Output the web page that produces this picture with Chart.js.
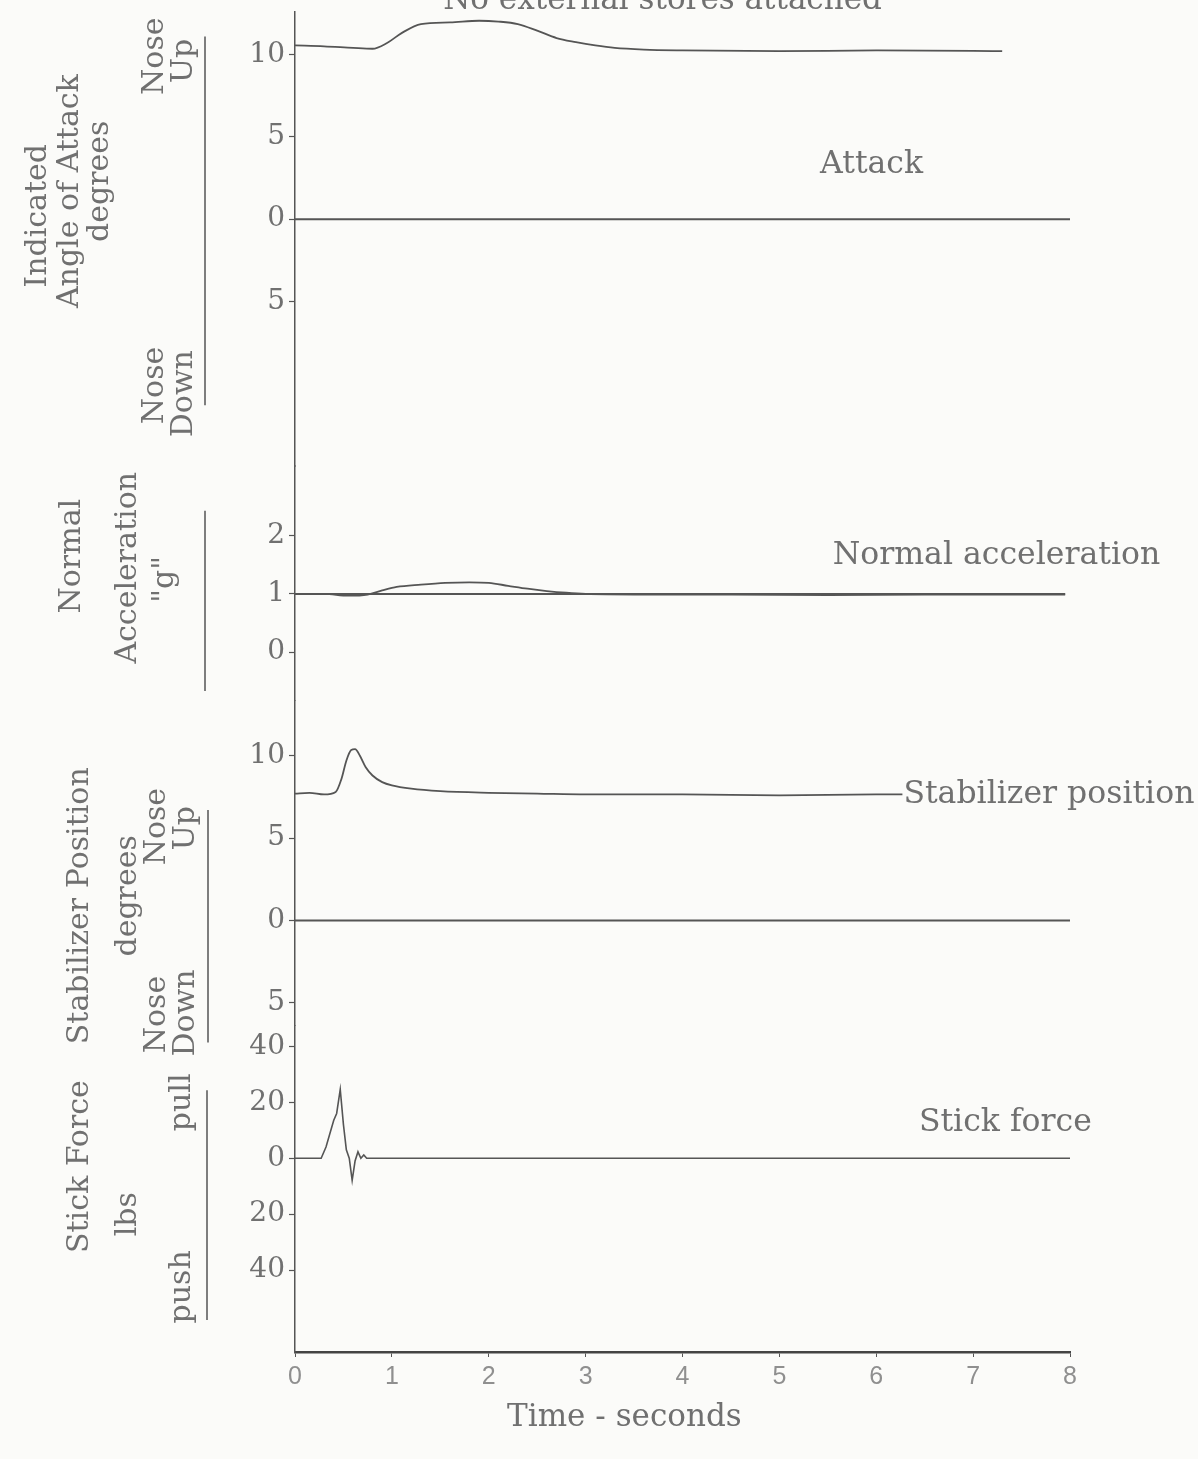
<!DOCTYPE html>
<html>
<head>
<meta charset="utf-8">
<script src="https://cdn.jsdelivr.net/npm/chart.js@4.4.1/dist/chart.umd.min.js"></script>
<style>
html, body { margin: 0; padding: 0; background: #fbfbf9; }
canvas { display: block; }
</style>
</head>
<body>
<canvas id="chart" width="1198" height="1459"></canvas>
<script>
// time axis (seconds)
const timeTicks = [0, 1, 2, 3, 4, 5, 6, 7, 8];

// indicated angle of attack, degrees (nose up positive)
const attackTime = [0, 0.3, 0.6, 0.8, 0.95, 1.1, 1.3, 1.6, 1.9, 2.1, 2.3, 2.5, 2.7, 2.9, 3.1, 3.3, 3.6, 4.0, 5.0, 6.0, 7.0, 7.3];
const attackDeg = [10.55, 10.5, 10.4, 10.35, 10.7, 11.3, 11.85, 11.95, 12.05, 12.0, 11.85, 11.45, 11.0, 10.75, 10.55, 10.4, 10.3, 10.25, 10.2, 10.25, 10.22, 10.2];

// normal acceleration, g
const accelTime = [0, 0.3, 0.55, 0.75, 0.9, 1.05, 1.3, 1.55, 1.8, 2.0, 2.2, 2.4, 2.6, 2.8, 3.0, 3.5, 4.5, 5.5, 6.5, 7.5, 7.95];
const accelG = [1.0, 1.0, 0.97, 0.99, 1.06, 1.12, 1.16, 1.19, 1.2, 1.19, 1.14, 1.09, 1.05, 1.02, 1.0, 0.99, 0.99, 0.98, 0.99, 0.99, 0.99];

// stabilizer position, degrees (nose up positive)
const stabTime = [0, 0.15, 0.3, 0.42, 0.48, 0.53, 0.58, 0.62, 0.67, 0.73, 0.8, 0.9, 1.0, 1.2, 1.5, 2.0, 2.5, 3.0, 4.0, 5.0, 6.0, 6.27];
const stabDeg = [7.7, 7.75, 7.65, 7.8, 8.6, 9.7, 10.35, 10.4, 10.0, 9.3, 8.8, 8.4, 8.2, 8.0, 7.85, 7.75, 7.7, 7.65, 7.65, 7.6, 7.65, 7.65];

// stick force, lbs (pull positive)
const stickTime = [0, 0.2, 0.27, 0.32, 0.37, 0.40, 0.43, 0.467, 0.5, 0.53, 0.56, 0.59, 0.62, 0.65, 0.68, 0.71, 0.74, 0.8, 1.5, 3, 4.5, 6, 7.5, 8.0];
const stickLbs = [0, 0, 0, 4, 10, 13.6, 16, 24.6, 12, 3, 0, -7.9, -1, 2.3, 0, 1.2, 0, 0, 0, 0, 0, 0, 0, 0];

// reference lines
const refTime = [0, 8];
const attackZero = [0, 0];
const accelRefTime = [0, 7.95];
const accelOne = [1, 1];
const stabZero = [0, 0];

// tick labels per panel
const attackTicks = [10, 5, 0, -5];
const accelTicks = [2, 1, 0];
const stabTicks = [10, 5, 0, -5];
const stickTicks = [40, 20, 0, -20, -40];

const INK = '#555';
const TEXT = '#707070';
const FONT = "'DejaVu Serif', serif";

function pts(t, v) {
  return t.map((x, i) => ({x: x, y: v[i]}));
}

function trace(t, v, axis, opts) {
  return Object.assign({
    data: pts(t, v),
    yAxisID: axis,
    borderColor: INK,
    borderWidth: 1.8,
    pointRadius: 0,
    fill: false,
    tension: 0.4,
    cubicInterpolationMode: 'monotone'
  }, opts || {});
}

function panelAxis(min, max, weight, ticks) {
  return {
    type: 'linear',
    position: 'left',
    stack: 'panels',
    stackWeight: weight,
    min: min,
    max: max,
    afterBuildTicks: s => { s.ticks = ticks.map(v => ({value: v})); },
    afterFit: s => { s.width = 70; },
    border: {color: INK, width: 1.5},
    grid: {drawOnChartArea: false, tickLength: 6, color: INK, tickWidth: 1.2},
    ticks: {color: TEXT, font: {family: FONT, size: 28, lineHeight: 0.55}, padding: 4, callback: v => Math.abs(v)}
  };
}

// rotated side labels: [text, x pixel column, axis, value]
const sideLabels = [
  ['Indicated', 38, 'yAtt', 0.2],
  ['Angle of Attack', 70, 'yAtt', 1.7],
  ['degrees', 100, 'yAtt', 2.3],
  ['Nose', 155, 'yAtt', 9.9],
  ['Up', 184, 'yAtt', 9.6],
  ['Nose', 155, 'yAtt', -10.1],
  ['Down', 184, 'yAtt', -10.6],
  ['Normal', 72, 'yAcc', 1.65],
  ['Acceleration', 128, 'yAcc', 1.45],
  ['"g"', 165, 'yAcc', 1.25],
  ['Stabilizer Position', 80, 'yStab', 0.9],
  ['degrees', 128, 'yStab', 1.5],
  ['Nose', 157, 'yStab', 5.7],
  ['Up', 186, 'yStab', 5.6],
  ['Nose', 157, 'yStab', -5.7],
  ['Down', 186, 'yStab', -5.6],
  ['Stick Force', 80, 'yStick', -3],
  ['lbs', 128, 'yStick', -20],
  ['pull', 182, 'yStick', 20],
  ['push', 182, 'yStick', -46]
];

// bracket lines beside the units: [x pixel, axis, from, to]
const brackets = [
  [205, 'yAtt', 11.1, -11.3],
  [205, 'yAcc', 2.43, -0.67],
  [208, 'yStab', 6.7, -7.4],
  [207, 'yStick', 24.3, -57.9]
];

// trace names on the right: [text, axis, time, value]
const traceNames = [
  ['Attack', 'yAtt', 5.42, 3.3],
  ['Normal acceleration', 'yAcc', 5.55, 1.65],
  ['Stabilizer position', 'yStab', 6.28, 7.65],
  ['Stick force', 'yStick', 6.44, 12.5]
];

const textPlugin = {
  id: 'textPlugin',
  beforeDraw(chart) {
    const ctx = chart.ctx;
    ctx.save();
    ctx.fillStyle = '#fbfbf9';
    ctx.fillRect(0, 0, chart.width, chart.height);
    ctx.restore();
  },
  afterDraw(chart) {
    const ctx = chart.ctx;
    const xs = chart.scales.x;
    ctx.save();
    ctx.fillStyle = TEXT;

    ctx.font = '30px ' + FONT;
    sideLabels.forEach(l => {
      const y = chart.scales[l[2]].getPixelForValue(l[3]);
      ctx.save();
      ctx.translate(l[1], y);
      ctx.rotate(-Math.PI / 2);
      ctx.textAlign = 'center';
      ctx.textBaseline = 'middle';
      ctx.fillText(l[0], 0, 0);
      ctx.restore();
    });

    ctx.strokeStyle = INK;
    ctx.lineWidth = 1.5;
    brackets.forEach(b => {
      const s = chart.scales[b[1]];
      ctx.beginPath();
      ctx.moveTo(b[0], s.getPixelForValue(b[2]));
      ctx.lineTo(b[0], s.getPixelForValue(b[3]));
      ctx.stroke();
    });

    ctx.font = '31.5px ' + FONT;
    ctx.textAlign = 'left';
    ctx.textBaseline = 'middle';
    traceNames.forEach(n => {
      ctx.fillText(n[0], xs.getPixelForValue(n[2]), chart.scales[n[1]].getPixelForValue(n[3]));
    });

    ctx.font = '31px ' + FONT;
    ctx.textBaseline = 'alphabetic';
    ctx.fillText('No external stores attached', xs.getPixelForValue(1.53), 9);

    ctx.textAlign = 'center';
    ctx.textBaseline = 'middle';
    ctx.fillText('Time - seconds', xs.getPixelForValue(3.4), 1418);
    ctx.restore();
  }
};

const data = {
  datasets: [
    trace(refTime, attackZero, 'yAtt', {borderWidth: 2, tension: 0}),
    trace(attackTime, attackDeg, 'yAtt'),
    trace(accelRefTime, accelOne, 'yAcc', {borderWidth: 2, tension: 0}),
    trace(accelTime, accelG, 'yAcc'),
    trace(refTime, stabZero, 'yStab', {borderWidth: 2, tension: 0}),
    trace(stabTime, stabDeg, 'yStab'),
    trace(stickTime, stickLbs, 'yStick', {tension: 0, cubicInterpolationMode: 'default', borderWidth: 1.6})
  ]
};

// stacked left axes: the last one listed is placed on top
const config = {
  type: 'line',
  data: data,
  options: {
    responsive: false,
    animation: false,
    layout: {padding: {top: 0, left: 225, right: 128, bottom: 67}},
    plugins: {
      legend: {display: false},
      tooltip: {enabled: false}
    },
    scales: {
      x: {
        type: 'linear',
        min: 0,
        max: 8,
        afterBuildTicks: s => { s.ticks = timeTicks.map(v => ({value: v})); },
        afterFit: s => { s.height = 40; },
        border: {color: '#444', width: 2.5},
        grid: {drawOnChartArea: false, tickLength: 5, color: INK},
        ticks: {color: '#8f8f8f', font: {family: "'Liberation Sans', sans-serif", size: 25}, padding: 5}
      },
      yStick: panelAxis(-69.3, 47.5, 327, stickTicks),
      yStab: panelAxis(-6.36, 13.33, 325, stabTicks),
      yAcc: panelAxis(-0.84, 3.2, 235, accelTicks),
      yAtt: panelAxis(-15, 12.6, 455, attackTicks)
    }
  },
  plugins: [textPlugin]
};

const myChart = new Chart(document.getElementById('chart'), config);
</script>
</body>
</html>
